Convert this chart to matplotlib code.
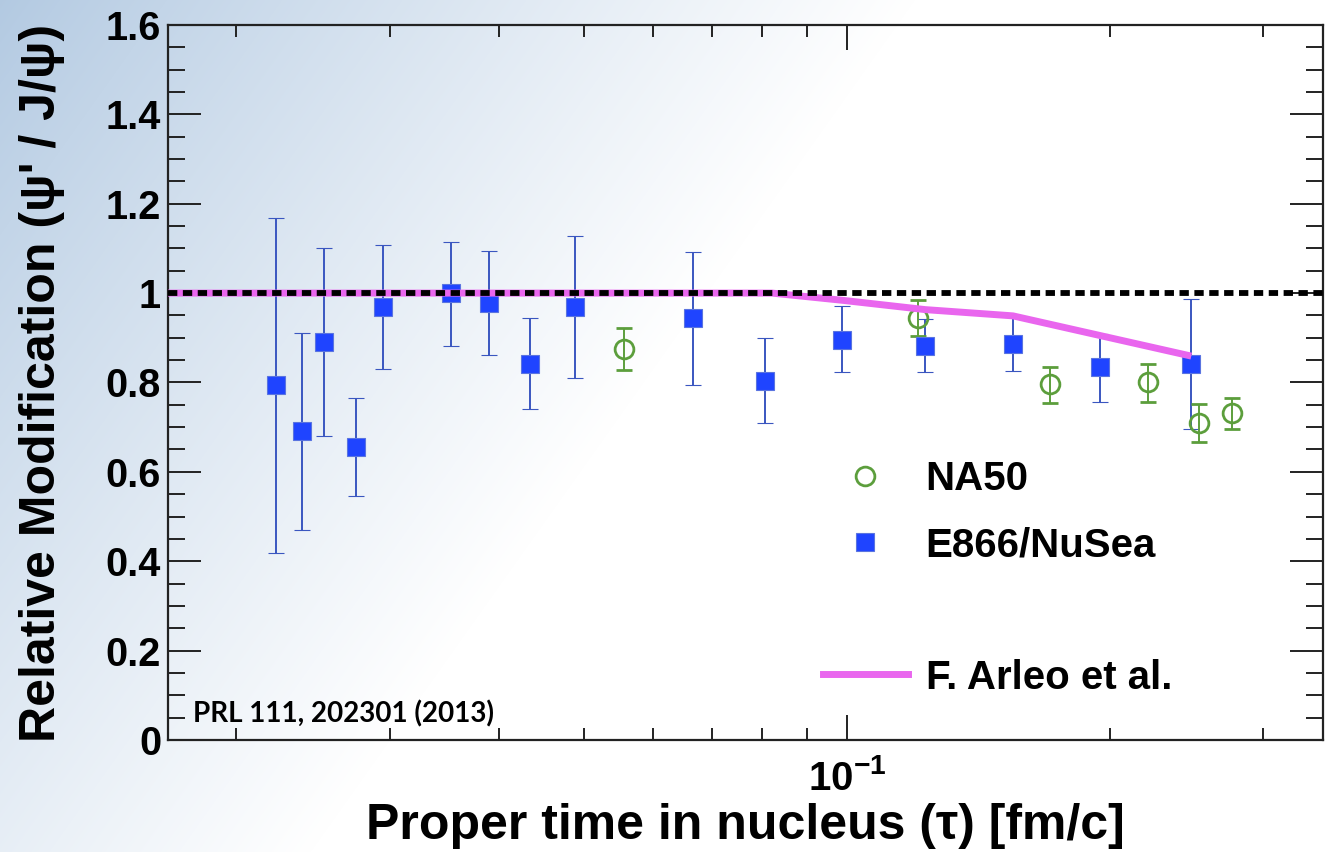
import matplotlib
matplotlib.use('Agg')
import matplotlib.pyplot as plt
from matplotlib.lines import Line2D
from matplotlib.ticker import FixedLocator, MultipleLocator, NullFormatter, LogLocator
import numpy as np

plt.rcParams['font.family'] = ['Liberation Sans', 'DejaVu Sans']
plt.rcParams['font.weight'] = 'bold'
plt.rcParams['mathtext.fontset'] = 'custom'
plt.rcParams['mathtext.rm'] = 'Liberation Sans:bold'
plt.rcParams['mathtext.bf'] = 'Liberation Sans:bold'

# E866/NuSea points (value, upper and lower end of error bar)
e866_x = [0.0222, 0.0238, 0.0252, 0.0274, 0.0294, 0.0352, 0.0389, 0.0434,
          0.0489, 0.0667, 0.0807, 0.0987, 0.123, 0.155, 0.195, 0.248]
e866_y = [0.794, 0.691, 0.891, 0.655, 0.969, 1.001, 0.977, 0.842,
          0.969, 0.944, 0.803, 0.896, 0.882, 0.887, 0.834, 0.842]
e866_hi = [1.169, 0.911, 1.101, 0.765, 1.107, 1.115, 1.095, 0.944,
           1.127, 1.092, 0.899, 0.970, 0.942, 0.946, 0.908, 0.987]
e866_lo = [0.419, 0.470, 0.680, 0.547, 0.831, 0.882, 0.862, 0.740,
           0.811, 0.794, 0.709, 0.823, 0.823, 0.826, 0.757, 0.695]

# NA50 points
na50_x = [0.0556, 0.1205, 0.1711, 0.2214, 0.2532, 0.2760]
na50_y = [0.876, 0.945, 0.796, 0.800, 0.710, 0.731]
na50_hi = [0.922, 0.984, 0.834, 0.842, 0.752, 0.766]
na50_lo = [0.829, 0.905, 0.755, 0.757, 0.667, 0.695]

# F. Arleo et al. curve
arleo_x = [0.0167, 0.0821, 0.0987, 0.123, 0.155, 0.195, 0.248]
arleo_y = [1.0, 1.0, 0.984, 0.963, 0.949, 0.905, 0.859]

y_ticks = [0, 0.2, 0.4, 0.6, 0.8, 1.0, 1.2, 1.4, 1.6]
y_labels = ['0', '0.2', '0.4', '0.6', '0.8', '1', '1.2', '1.4', '1.6']

fig = plt.figure(figsize=(13.27, 8.52), dpi=100)

# slide background: blue fading to white towards lower right
bg = fig.add_axes([0, 0, 1, 1], zorder=-10)
yy, xx = np.mgrid[0:1:852j, 0:1:1327j]
t = np.clip(0.66 * yy + 1.45 * xx, 0, 1) ** 0.9
blue = np.array([0.70, 0.79, 0.885])
img = blue[None, None, :] * (1 - t[..., None]) + t[..., None]
bg.imshow(img, aspect='auto', extent=[0, 1, 0, 1])
bg.axis('off')

ax = fig.add_axes([0.1266, 0.1315, 0.8704, 0.8392])
ax.set_facecolor('none')

e_y = np.array(e866_y)
ax.errorbar(e866_x, e866_y,
            yerr=[e_y - np.array(e866_lo), np.array(e866_hi) - e_y],
            fmt='s', ms=13, mfc='#1f44ff', mec='#5a74e0', mew=0.8,
            ecolor='#3a56c0', elinewidth=1.4, capsize=6, capthick=1.4, zorder=3)

n_y = np.array(na50_y)
ax.errorbar(na50_x, na50_y,
            yerr=[n_y - np.array(na50_lo), np.array(na50_hi) - n_y],
            fmt='o', ms=13.5, mfc='none', mec='#5c9e3c', mew=2,
            ecolor='#5c9e3c', elinewidth=1.4, capsize=6, capthick=1.4, zorder=3)

ax.plot(arleo_x, arleo_y, color='#e966ee', lw=5, zorder=4, solid_capstyle='butt')
ax.axhline(1.0, color='black', lw=4.2, dashes=(1.6, 0.95), dash_capstyle='butt', zorder=5)

ax.set_xscale('log')
ax.set_xlim(0.0167, 0.351)
ax.set_ylim(0, 1.6)

ax.xaxis.set_major_locator(FixedLocator([0.1]))
ax.set_xticklabels([r'$\mathbf{10^{-1}}$'])
ax.xaxis.set_minor_locator(LogLocator(base=10, subs=np.arange(2, 10)))
ax.xaxis.set_minor_formatter(NullFormatter())

ax.yaxis.set_major_locator(FixedLocator(y_ticks))
ax.set_yticklabels(y_labels)
ax.yaxis.set_minor_locator(MultipleLocator(0.05))

ax.tick_params(which='both', direction='in', top=True, right=True, color='#222222', width=1.4)
ax.tick_params(axis='y', which='major', length=24, labelsize=28.5, pad=5)
ax.tick_params(axis='y', which='minor', length=12.5)
ax.tick_params(axis='x', which='major', length=18, labelsize=29, pad=14)
ax.tick_params(axis='x', which='minor', length=8.5)
for s in ax.spines.values():
    s.set_linewidth(1.6)
    s.set_color('#222222')

ax.set_xlabel('Proper time in nucleus (τ) [fm/c]', fontsize=36, fontweight='bold')
ax.xaxis.set_label_coords(0.5, -0.088)
ax.set_ylabel("Relative Modification (ψ' / J/ψ)", fontsize=36, fontweight='bold')
ax.yaxis.set_label_coords(-0.089, 0.5)

ax.text(0.022, 0.024, 'PRL 111, 202301 (2013)', transform=ax.transAxes,
        fontsize=20, fontweight='bold', family=['Lato', 'DejaVu Sans'])

handles = [
    Line2D([], [], ls='none', marker='o', ms=13.5, mfc='none', mec='#5c9e3c', mew=2),
    Line2D([], [], ls='none', marker='s', ms=13, mfc='#1f44ff', mec='#5a74e0', mew=0.8),
    Line2D([], [], ls='none'),
    Line2D([], [], color='#e966ee', lw=5),
]
labels = ['NA50', 'E866/NuSea', ' ', 'F. Arleo et al.']
fig.legend(handles, labels, loc='upper left', bbox_to_anchor=(823 / 1327, 1 - 460 / 852),
           frameon=False, fontsize=29, handlelength=2.1, handletextpad=0.45,
           labelspacing=0.70, borderpad=0, borderaxespad=0)

fig.savefig('out.png', dpi=100)
